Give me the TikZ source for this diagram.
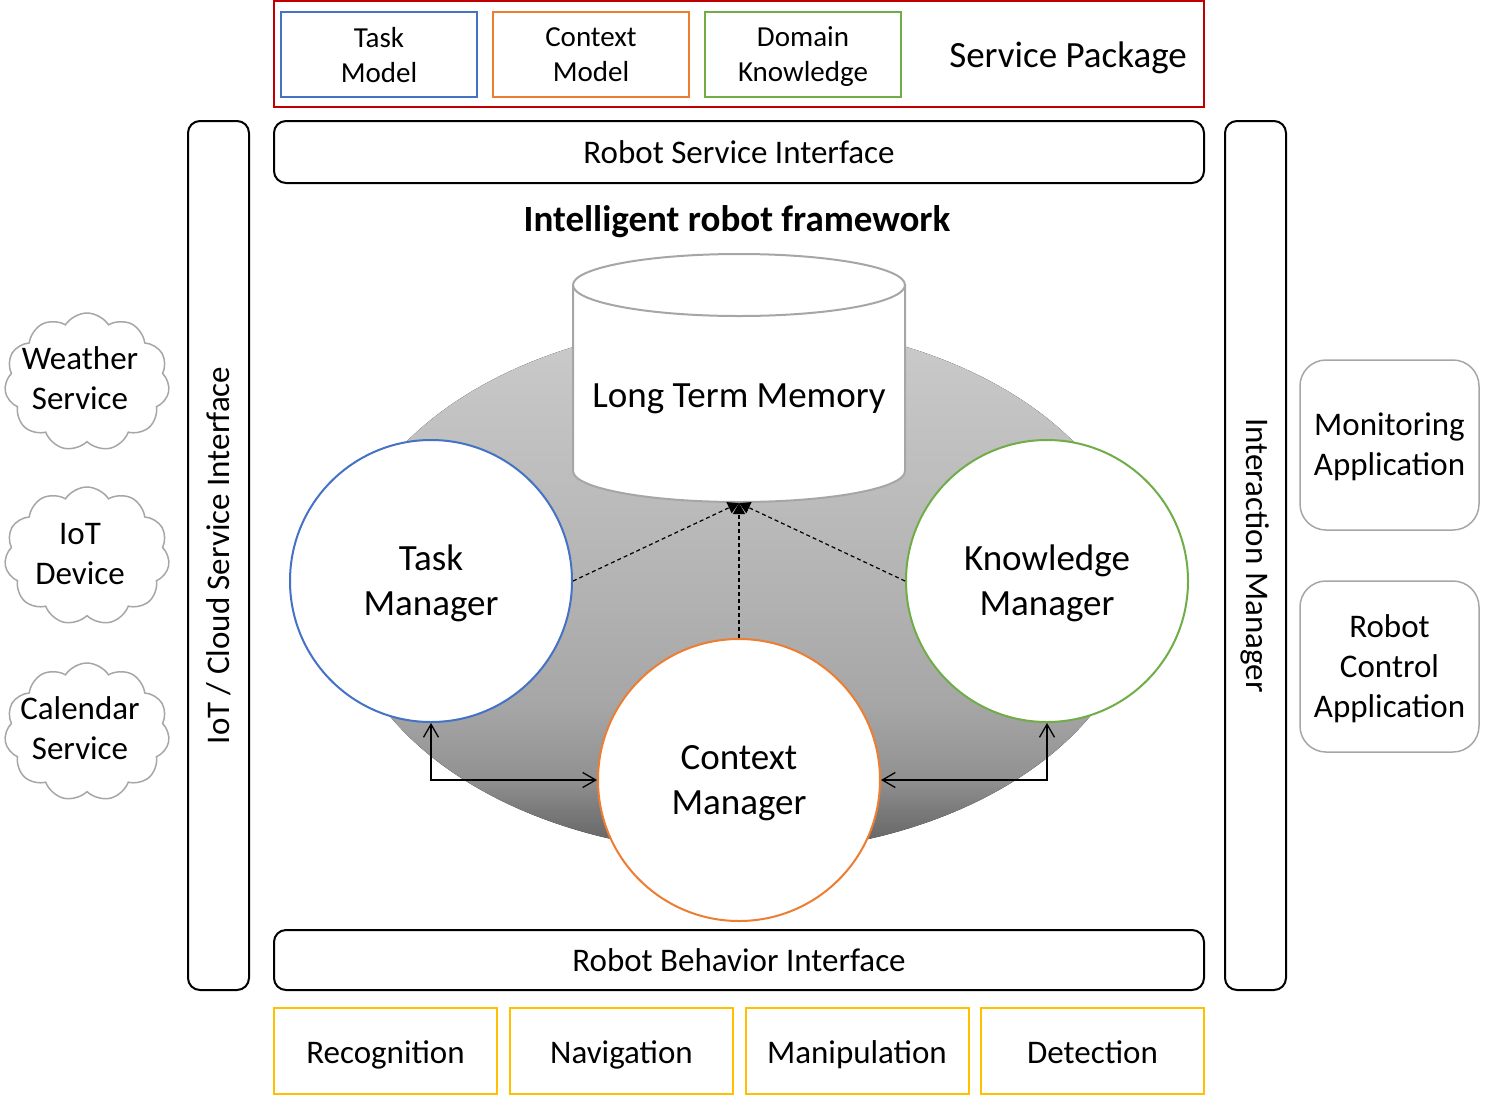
\documentclass[tikz,border=0pt]{standalone}
\usepackage{fontspec}
\setmainfont{Carlito}
\usetikzlibrary{arrows.meta,shapes.symbols,shapes.geometric}
\definecolor{cblue}{HTML}{4472C4}
\definecolor{corange}{HTML}{ED7D31}
\definecolor{cgreen}{HTML}{70AD47}
\definecolor{cred}{HTML}{C00000}
\definecolor{cyellow}{HTML}{FFC000}
\definecolor{cgray}{HTML}{A6A6A6}
\definecolor{ga}{HTML}{606060}
\definecolor{gb}{HTML}{7A7A7A}
\definecolor{gc}{HTML}{919191}
\definecolor{gd}{HTML}{A6A6A6}
\definecolor{ge}{HTML}{B3B3B3}
\definecolor{gf}{HTML}{CBCBCB}
\pgfdeclareverticalshading{ellshade}{100bp}{color(0bp)=(ga); color(25bp)=(ga); color(29bp)=(gb); color(32bp)=(gc); color(39bp)=(gd); color(50bp)=(ge); color(75bp)=(gf); color(100bp)=(gf)}
\begin{document}
\begin{tikzpicture}[x=1pt,y=-1pt,
  bigf/.style={font=\fontsize{37}{45}\selectfont},
  medf/.style={font=\fontsize{33}{40}\selectfont},
  smallf/.style={font=\fontsize{29}{35}\selectfont},
  pkgbox/.style={draw, line width=2pt, minimum width=196pt, minimum height=85pt, inner sep=0pt, align=center, text depth=0pt, smallf},
  ibox/.style={draw=black, line width=2pt, rounded corners=12pt, inner sep=0pt, medf},
  capbox/.style={draw=cyellow, line width=2pt, minimum width=223pt, minimum height=86pt, inner sep=0pt, text height=24pt, text depth=0pt, medf},
  appbox/.style={draw=cgray, line width=1.5pt, rounded corners=26pt, minimum width=179pt, inner sep=0pt, align=center, text depth=1pt, medf},
  mgr/.style={circle, line width=2pt, fill=white, minimum size=282pt, inner sep=0pt, align=center, text depth=1pt, bigf},
  cloudbox/.style={cloud, cloud puffs=11, cloud puff arc=115, cloud ignores aspect, draw=cgray, line width=1.5pt, minimum width=165pt, minimum height=138pt, inner sep=0pt},
  cloudtext/.style={align=center, inner sep=0pt, medf},
  dasharrow/.style={line width=1.2pt, dash pattern=on 4pt off 3pt, -{Triangle[length=11pt,width=12pt]}},
  elbowarrow/.style={line width=1.3pt, {Straight Barb[length=13pt,width=15pt]}-{Straight Barb[length=13pt,width=15pt]}}
]
\useasboundingbox (0,0) rectangle (1486,1096);

% service package
\node[draw=cred, line width=2pt, minimum width=930pt, minimum height=106pt, inner sep=0pt] (pkg) at (739,54) {};
\node[pkgbox, draw=cblue] (tmodel) at (379,54.5) {Task\\Model};
\node[pkgbox, draw=corange] (cmodel) at (591,54.5) {Context\\Model};
\node[pkgbox, draw=cgreen] (dknow) at (803,54.5) {Domain\\Knowledge};
\node[bigf, inner sep=0pt] (pkglabel) at (1068,58) {Service Package};

% interfaces
\node[ibox, minimum width=930pt, minimum height=62pt] (rsi) at (739,152) {Robot Service Interface};
\node[ibox, minimum width=930pt, minimum height=60pt] (rbi) at (739,960) {Robot Behavior Interface};
\node[ibox, rotate=90, minimum width=869pt, minimum height=61pt] (iotif) at (218.5,555.5) {IoT / Cloud Service Interface};
\node[ibox, rotate=-90, minimum width=869pt, minimum height=61pt] (imgr) at (1255.5,555.5) {Interaction Manager};

% title
\node[font=\fontsize{37}{45}\selectfont\bfseries, inner sep=0pt] (title) at (737,222) {Intelligent robot framework};

% gradient ellipse
\fill[shading=ellshade] (740,588) ellipse [x radius=400, y radius=265];

% long term memory cylinder
\filldraw[fill=white, draw=cgray, line width=2pt]
  (573,285) -- (573,471) arc[start angle=180, end angle=360, x radius=166pt, y radius=31pt] -- (905,285) -- cycle;
\filldraw[fill=white, draw=cgray, line width=2pt] (739,285) ellipse [x radius=166, y radius=31];
\node[bigf, inner sep=0pt] (ltm) at (739,399) {Long Term Memory};
\coordinate (ltmb) at (739,503);

% managers
\node[mgr, draw=cblue] (tm) at (431,581) {Task\\Manager};
\node[mgr, draw=cgreen] (km) at (1047,581) {Knowledge\\Manager};
\node[mgr, draw=corange] (cm) at (739,780) {Context\\Manager};

\draw[dasharrow] (tm.east) -- (ltmb);
\draw[dasharrow] (km.west) -- (ltmb);
\draw[dasharrow] (cm.north) -- (ltmb);

\draw[elbowarrow] (tm.south) |- (cm.west);
\draw[elbowarrow] (km.south) |- (cm.east);

% clouds
\node[cloudbox] (wcloud) at (87,382) {};
\node[cloudtext] (wtext) at (80,378) {Weather\\Service};
\node[cloudbox] (icloud) at (87,556) {};
\node[cloudtext] (itext) at (80,554) {IoT\\Device};
\node[cloudbox] (ccloud) at (87,732) {};
\node[cloudtext] (ctext) at (80,728) {Calendar\\Service};

% applications
\node[appbox, minimum height=170pt] (mon) at (1389.5,445) {Monitoring\\Application};
\node[appbox, minimum height=171pt] (rctl) at (1389.5,666.5) {Robot\\Control\\Application};

% capabilities
\node[capbox] (recog) at (385.5,1051) {Recognition};
\node[capbox] (nav) at (621.5,1051) {Navigation};
\node[capbox] (manip) at (857,1051) {Manipulation};
\node[capbox] (detect) at (1092.5,1051) {Detection};
\end{tikzpicture}
\end{document}
